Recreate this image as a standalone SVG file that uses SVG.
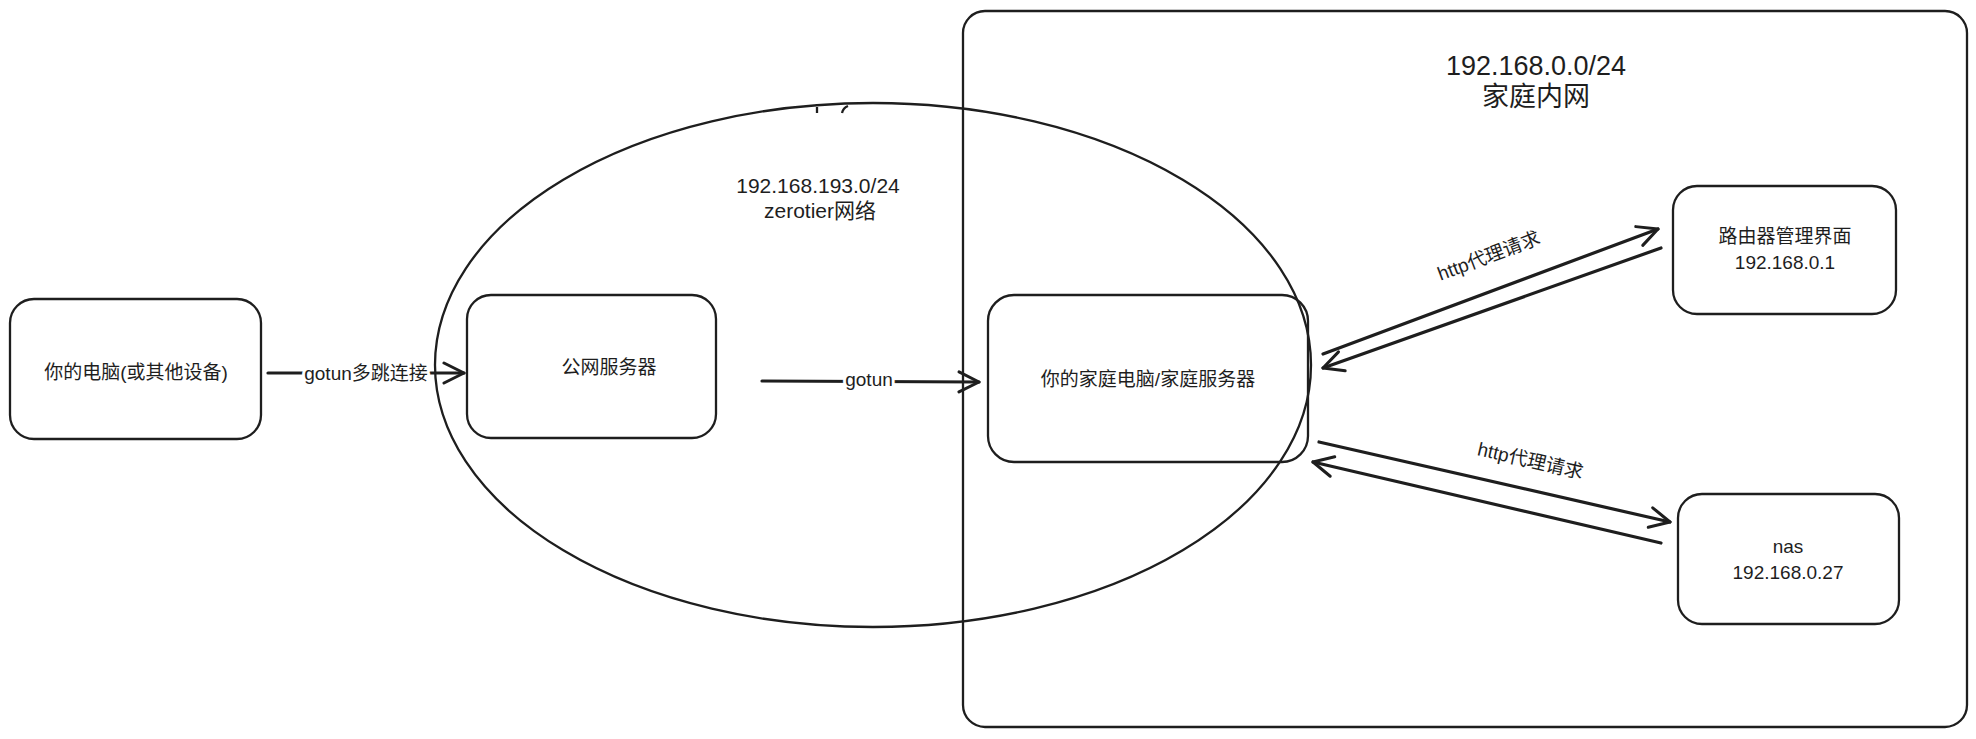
<svg xmlns="http://www.w3.org/2000/svg" width="1976" height="739" viewBox="0 0 1976 739">
<style>
.box{fill:none;stroke:#1e1e1e;stroke-width:2.3}
.ln{fill:none;stroke:#1e1e1e;stroke-width:3.2;stroke-linecap:round}
.t{font-family:"Liberation Sans","Noto Sans CJK SC",sans-serif;font-size:19px;fill:#1e1e1e;text-anchor:middle}
.mid{font-size:21px}
.big{font-size:27px}
.lbl{paint-order:stroke;stroke:#fff;stroke-width:6px;stroke-linejoin:round}
</style>
<defs>
<marker id="ah" markerUnits="userSpaceOnUse" markerWidth="30" markerHeight="30" refX="22" refY="12" orient="auto" viewBox="0 0 30 24">
<path d="M2,2 L22,12 L2,22" fill="none" stroke="#1e1e1e" stroke-width="3" stroke-linecap="round" stroke-linejoin="round"/>
</marker>
</defs>
<rect width="1976" height="739" fill="#fff"/>
<g id="home-network">
<rect class="box" x="963" y="11" width="1004" height="716" rx="22"/>
<text class="t big" x="1536" y="75">192.168.0.0/24</text>
<text class="t big" x="1536" y="106">家庭内网</text>
</g>
<g id="zerotier-network">
<ellipse class="box" cx="873" cy="365" rx="438" ry="262" stroke-width="2.6"/>
<path class="box" d="M817,107 L817,113 M848,106 Q843,108 842,113"/>
<text class="t mid" x="818" y="193">192.168.193.0/24</text>
<text class="t mid" x="820" y="218">zerotier网络</text>
</g>
<g id="your-pc">
<rect class="box" x="10" y="299" width="251" height="140" rx="24"/>
<text class="t" x="136" y="379">你的电脑(或其他设备)</text>
</g>
<g id="public-server">
<rect class="box" x="467" y="295" width="249" height="143" rx="24"/>
<text class="t" x="609" y="374">公网服务器</text>
</g>
<g id="home-server">
<rect class="box" x="988" y="295" width="320" height="167" rx="26"/>
<text class="t" x="1148" y="386">你的家庭电脑/家庭服务器</text>
</g>
<g id="router">
<rect class="box" x="1673" y="186" width="223" height="128" rx="24"/>
<text class="t" x="1785" y="243">路由器管理界面</text>
<text class="t" x="1785" y="269">192.168.0.1</text>
</g>
<g id="nas">
<rect class="box" x="1678" y="494" width="221" height="130" rx="24"/>
<text class="t" x="1788" y="553">nas</text>
<text class="t" x="1788" y="579">192.168.0.27</text>
</g>
<g id="connectors">
<line class="ln" x1="268" y1="373" x2="464" y2="373" marker-end="url(#ah)"/>
<line class="ln" x1="762" y1="381" x2="979" y2="382" marker-end="url(#ah)"/>
<line class="ln" x1="1323" y1="354" x2="1658" y2="229" marker-end="url(#ah)"/>
<line class="ln" x1="1661" y1="248" x2="1323" y2="368" marker-end="url(#ah)"/>
<line class="ln" x1="1319" y1="442" x2="1670" y2="522" marker-end="url(#ah)"/>
<line class="ln" x1="1661" y1="543" x2="1313" y2="462" marker-end="url(#ah)"/>
<text class="t lbl" x="366" y="380">gotun多跳连接</text>
<text class="t lbl" x="869" y="386">gotun</text>
<text class="t" x="0" y="0" transform="translate(1491,262) rotate(-20.5)">http代理请求</text>
<text class="t" x="0" y="0" transform="translate(1529,467) rotate(13)">http代理请求</text>
</g>
</svg>
